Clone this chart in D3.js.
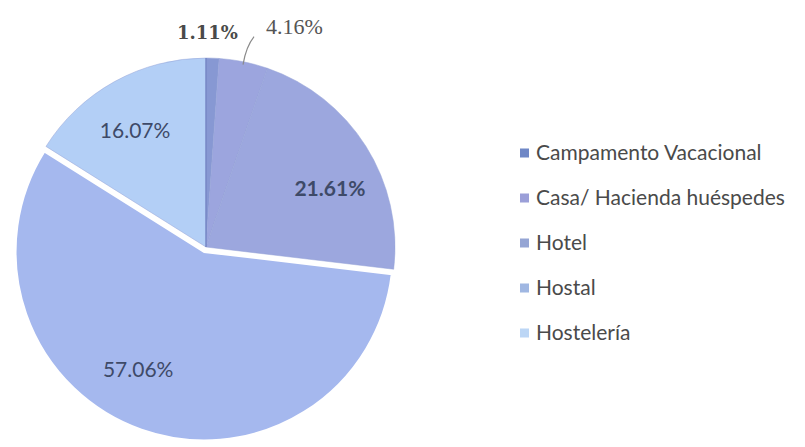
<!DOCTYPE html>
<html><head><meta charset="utf-8">
<script src="https://cdn.jsdelivr.net/npm/d3@7/dist/d3.min.js"></script>
<style>body{margin:0;background:#fff}svg{display:block}</style>
</head><body>
<svg id="c" width="805" height="447"></svg>
<script>
const categories = ["Campamento Vacacional","Casa/ Hacienda huéspedes","Hotel","Hostal","Hostelería"];
const values = [1.11, 4.16, 21.61, 57.06, 16.07];
const labels = ["1.11%","4.16%","21.61%","57.06%","16.07%"];
const colors = ["#8798d3","#9ca5de","#9ca7de","#a5b8ee","#b3cff6"];
const legendColors = ["#6f87c6","#9b9fd8","#95a5d4","#a0b7e2","#bcd6f5"];

const svg = d3.select("#c");
const cx = 206, cy = 247, r = 189;
const g = svg.append("g").attr("transform", `translate(${cx},${cy})`);

const pie = d3.pie().sort(null).value(d => d)(values);
const arc = d3.arc().innerRadius(0).outerRadius(r);
const explode = [0,0,0,5,0];

g.selectAll("path.slice").data(pie).join("path")
  .attr("class","slice")
  .attr("d", arc)
  .attr("fill", (d,i) => colors[i])
  .attr("stroke", (d,i) => i === 3 ? "#fff" : "#95a2d6")
  .attr("stroke-width", (d,i) => i === 3 ? 2.5 : 0.5)
  .attr("transform", (d,i) => {
    const a = (d.startAngle + d.endAngle)/2;
    return `translate(${Math.sin(a)*explode[i]},${-Math.cos(a)*explode[i]})`;
  });
// darker divider at start angle
g.append("line").attr("x1",0).attr("y1",0).attr("x2",0).attr("y2",-r)
  .attr("stroke","#7081c2").attr("stroke-width",1.6).attr("stroke-opacity",0.8);

// inside labels
const labelShift = [0,0,6,10,-2];
const labelR = 138;
const inside = [2,3,4];
g.selectAll("text.in").data(inside).join("text")
  .attr("class","in")
  .attr("x", i => { const a=(pie[i].startAngle+pie[i].endAngle)/2 + labelShift[i]*Math.PI/180; return Math.sin(a)*labelR; })
  .attr("y", i => { const a=(pie[i].startAngle+pie[i].endAngle)/2 + labelShift[i]*Math.PI/180; return -Math.cos(a)*labelR + 2; })
  .attr("dy","0.35em")
  .attr("text-anchor","middle")
  .attr("font-family","Lato, 'Open Sans', sans-serif")
  .attr("font-size", 21)
  .attr("font-weight", i => i===2 ? "bold" : "normal")
  .attr("fill","#3e4a68")
  .text(i => labels[i]);

// outside labels
const a0 = (pie[0].startAngle+pie[0].endAngle)/2;
g.append("text")
  .attr("x", Math.sin(a0)*214 - 6).attr("y", -Math.cos(a0)*214)
  .attr("dy","0.35em").attr("text-anchor","middle")
  .attr("font-family","'DejaVu Serif', 'Liberation Serif', serif").attr("font-weight","bold")
  .attr("font-size",18).attr("fill","#4a4a4a").text(labels[0]);

const a1 = (pie[1].startAngle+pie[1].endAngle)/2;
const p1 = [Math.sin(a1)*(r-3), -Math.cos(a1)*(r-3)];
g.append("path")
  .attr("d", `M${p1[0]},${p1[1]} Q${p1[0]+3},${p1[1]-18} ${p1[0]+11},${p1[1]-28}`)
  .attr("fill","none").attr("stroke","#8a8a8a").attr("stroke-width",1.2);
g.append("text")
  .attr("x", p1[0]+23).attr("y", p1[1]-38)
  .attr("dy","0.35em").attr("text-anchor","start")
  .attr("font-family","'Liberation Serif', serif")
  .attr("font-size",22).attr("fill","#555").text(labels[1]);

// legend
const ly = d3.scalePoint().domain(categories).range([153, 333]);
const leg = svg.append("g");
const items = leg.selectAll("g").data(categories).join("g")
  .attr("transform", d => `translate(520,${ly(d)})`);
items.append("rect").attr("x",0).attr("y",-4.5).attr("width",9).attr("height",9)
  .attr("fill",(d,i)=>legendColors[i]);
items.append("text").attr("x",16).attr("dy","0.35em")
  .attr("font-family","Lato, 'Open Sans', sans-serif").attr("font-size",21)
  .attr("fill","#4a4a4a").text(d=>d);
</script>
</body></html>
